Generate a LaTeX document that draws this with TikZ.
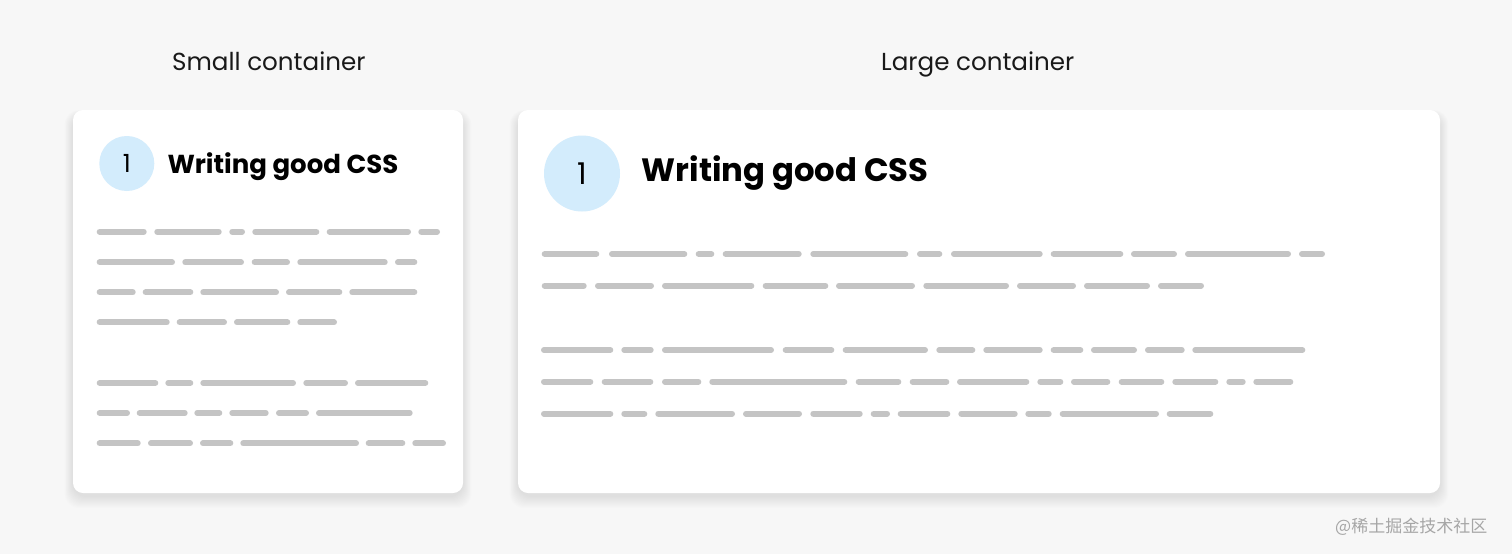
\documentclass[tikz,border=0pt]{standalone}
\usepackage{fontspec}
\setmainfont{Poppins}
\newfontfamily\cjk{Noto Sans CJK SC}
\definecolor{bg}{HTML}{F7F7F7}
\definecolor{barc}{HTML}{C4C4C4}
\definecolor{circ}{HTML}{D3ECFC}
\definecolor{wmc}{HTML}{A6A6A6}
\begin{document}
\begin{tikzpicture}[x=1pt,y=-1pt,
  bar/.style={line width=6pt,line cap=round,draw=barc},
  card/.style={fill=white,rounded corners=10pt,inner sep=0pt},
  numc/.style={circle,fill=circ,inner sep=0pt,text=black},
  title/.style={anchor=base west,inner sep=0pt,text=black!90},
  head/.style={anchor=base west,inner sep=0pt,text=black}]
\fill[bg] (0,0) rectangle (1512,554);
\useasboundingbox (0,0) rectangle (1512,554);
% shadows
\foreach \i in {1,...,12}{
  \fill[black,opacity=0.006,rounded corners=14pt] (73-\i*0.7,110-\i*0.4+5) rectangle (463+\i*0.7,493+\i+3);
  \fill[black,opacity=0.006,rounded corners=14pt] (518-\i*0.7,110-\i*0.4+5) rectangle (1440+\i*0.7,493+\i+3);
}
\node[card,minimum width=390pt,minimum height=383pt] (small) at (268,301.5) {};
\node[card,minimum width=922pt,minimum height=383pt] (large) at (979,301.5) {};
% titles
\node[title] (t1) at (172,70) {\fontsize{24.6}{25}\selectfont Small container};
\node[title] (t2) at (881,70) {\fontsize{24.6}{25}\selectfont Large container};
% circles
\node[numc,minimum size=55pt] (n1) at (126.8,163.5) {\fontsize{25}{25}\selectfont 1};
\node[numc,minimum size=76pt] (n2) at (582,173.5) {\fontsize{30}{30}\selectfont 1};
% headings
\node[head] (h1) at (167.3,173.5) {\fontsize{26}{26}\selectfont\bfseries Writing good CSS};
\node[head] (h2) at (641.5,181.7) {\fontsize{32.3}{32.3}\selectfont\bfseries Writing good CSS};
% small card bars
\foreach \y/\segs in {
 231.7/{96.7/146.7,154.3/221.7,229.3/245,252.3/319.3,326.7/411,418.3/440},
 262.3/{96.7/175,182.3/244,251.7/290,297.3/387.7,395/417.3},
 292.3/{96.7/135.7,142.7/193.3,200.3/279,286/342.3,349.3/417.3},
 322.3/{96.7/169.7,176.7/227,234/290.3,297.3/337},
 383/{96.7/158.3,165.3/193.3,200.3/296,303.3/348,355/428.3},
 413/{96.7/130,136.7/187.7,194.3/222.3,229.3/268.7,276/309,316/412.7},
 443.3/{96.7/140.7,148/193,200/233.3,240.3/359,365.7/405.3,412.3/446}}{
  \foreach \a/\b in \segs {\draw[bar] (\a+3,\y) -- (\b-3,\y);}
}
% large card bars
\foreach \y/\segs in {
 254/{541.7/599.3,609/687.3,695.7/714.3,722.7/801.7,810.3/908.3,917/942.3,951/1042.7,1050.7/1123.3,1131/1177,1185/1291,1299/1325},
 285.7/{541.7/586.7,595/654,662/754.3,762.7/828.3,836/915,923.3/1009,1017/1076,1084/1150,1158/1204},
 350/{541/613.3,621.3/653.7,662/774,782.7/834.3,842.7/928,936.3/975.3,983.3/1042.7,1050.7/1083.3,1091/1137,1145/1184.7,1192.3/1305.3},
 381.7/{541/593.3,601.7/653.3,662/701.3,709.3/847.3,855.7/901.3,909.7/949.3,957/1029.3,1037.3/1063.3,1071/1110.3,1118.7/1164.3,1172.3/1218.3,1226.3/1245.7,1253.3/1293.3},
 413.7/{541/613.3,621.3/647.3,655.3/735,743/802,810.3/862.7,870.7/890,897.7/950.3,958.3/1017.7,1025.3/1051.7,1059.7/1159,1166.7/1213.3}}{
  \foreach \a/\b in \segs {\draw[bar] (\a+3,\y) -- (\b-3,\y);}
}
% watermark
\node[anchor=base west,inner sep=0pt,text=wmc] (wm) at (1335,532) {\cjk\fontsize{17}{17}\selectfont @稀土掘金技术社区};
\end{tikzpicture}
\end{document}
